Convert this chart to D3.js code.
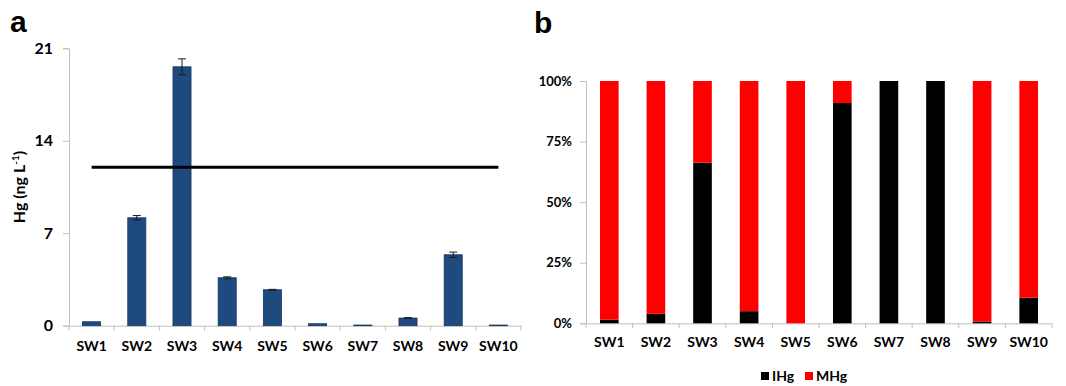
<!DOCTYPE html>
<html>
<head>
<meta charset="utf-8">
<script src="https://cdn.jsdelivr.net/npm/d3@7"></script>
<style>
  body { margin: 0; background: #fff; }
  svg { display: block; }
  svg text { font-family: Lato, "Open Sans", "Liberation Sans", sans-serif; }
  .axis path, .axis line { stroke: #bfbfbf; }
  .axis text { fill: #000; font-weight: bold; }
</style>
</head>
<body>
<div class="chart"></div>
<script>
// sample sites
var sites = ['SW1', 'SW2', 'SW3', 'SW4', 'SW5', 'SW6', 'SW7', 'SW8', 'SW9', 'SW10']
// panel a: total Hg (ng/L) with error
var hgValues = [0.3, 8.17, 19.6, 3.63, 2.72, 0.15, 0.05, 0.58, 5.37, 0.05]
var hgErrors = [0, 0.17, 0.6, 0.07, 0.03, 0, 0, 0.03, 0.2, 0]
var hgTicks = [0, 7, 14, 21]
var threshold = 12
// panel b: share of IHg (%), remainder is MHg
var ihgPct = [1.5, 3.9, 66.3, 5, 0, 90.9, 100, 100, 0.7, 10.6]
var pctTicks = [0, 25, 50, 75, 100]
var seriesNames = ['IHg', 'MHg']
var seriesColors = ['#000000', '#ff0000']

var svg = d3.select(".chart").append("svg")
    .attr("width", 1066)
    .attr("height", 386)

// ---------- panel a ----------
var gA = svg.append("g")

var xA = d3.scaleBand().domain(sites).range([69, 521]).paddingInner(0.6).paddingOuter(0.3)
var yA = d3.scaleLinear().domain([0, 21]).range([325.7, 48.3])

gA.append("g")
    .attr("class", "axis")
    .attr("transform", "translate(69,0)")
    .call(d3.axisLeft(yA).tickValues(hgTicks).tickSize(6).tickPadding(10))
    .selectAll("text").style("font-size", "16px")

var xAxisA = gA.append("g")
    .attr("class", "axis")
    .attr("transform", "translate(0,325.7)")
    .call(d3.axisBottom(xA).tickSize(0).tickPadding(15))
xAxisA.selectAll("text").style("font-size", "14px")
// tick marks sit between categories
var stepA = xA.step()
xAxisA.selectAll("line.sep")
    .data(d3.range(sites.length + 1))
    .enter().append("line")
    .attr("x1", function(i) { return 69 + i * stepA })
    .attr("x2", function(i) { return 69 + i * stepA })
    .attr("y1", 0).attr("y2", 5)
    .attr("stroke", "#bfbfbf")

gA.selectAll("rect.bar")
    .data(hgValues)
    .enter().append("rect")
    .attr("class", "bar")
    .attr("x", function(d, i) { return xA(sites[i]) })
    .attr("width", xA.bandwidth())
    .attr("y", function(d) { return yA(d) })
    .attr("height", function(d) { return yA(0) - yA(d) })
    .attr("fill", "#1f4a80")
    .attr("stroke", "#17375e")
    .attr("stroke-width", 0.8)

// error bars
var errG = gA.selectAll("g.err")
    .data(hgValues.map(function(v, i) { return { v: v, e: hgErrors[i], s: sites[i] } })
        .filter(function(d) { return d.e > 0 }))
    .enter().append("g")
    .attr("class", "err")
    .attr("stroke", "#1a1a1a")
    .attr("stroke-width", 1)
errG.append("line")
    .attr("x1", function(d) { return xA(d.s) + xA.bandwidth() / 2 })
    .attr("x2", function(d) { return xA(d.s) + xA.bandwidth() / 2 })
    .attr("y1", function(d) { return yA(d.v + d.e) })
    .attr("y2", function(d) { return yA(d.v - d.e) })
errG.selectAll("line.cap")
    .data(function(d) { return [d.v + d.e, d.v - d.e].map(function(y) { return { y: y, s: d.s } }) })
    .enter().append("line")
    .attr("class", "cap")
    .attr("x1", function(d) { return xA(d.s) + xA.bandwidth() / 2 - 4 })
    .attr("x2", function(d) { return xA(d.s) + xA.bandwidth() / 2 + 4 })
    .attr("y1", function(d) { return yA(d.y) })
    .attr("y2", function(d) { return yA(d.y) })

// guideline value
gA.append("line")
    .attr("x1", xA(sites[0]) + xA.bandwidth() / 2)
    .attr("x2", xA(sites[sites.length - 1]) + xA.bandwidth() / 2)
    .attr("y1", yA(threshold))
    .attr("y2", yA(threshold))
    .attr("stroke", "#000")
    .attr("stroke-width", 3)

var yLab = gA.append("text")
    .attr("transform", "translate(25,187) rotate(-90)")
    .attr("text-anchor", "middle")
    .style("font-size", "16px")
    .style("font-weight", "bold")
yLab.append("tspan").text("Hg (ng L")
yLab.append("tspan").attr("dy", -6).style("font-size", "10px").text("-1")
yLab.append("tspan").attr("dy", 6).text(")")

gA.append("text")
    .attr("x", 10).attr("y", 32)
    .style("font-size", "30px")
    .style("font-weight", "bold")
    .style("font-family", "'Liberation Sans', Arial, sans-serif")
    .text("a")

// ---------- panel b ----------
var gB = svg.append("g")

var xB = d3.scaleBand().domain(sites).range([586, 1052]).paddingInner(0.6).paddingOuter(0.3)
var yB = d3.scaleLinear().domain([0, 100]).range([323.3, 81])

gB.append("g")
    .attr("class", "axis")
    .attr("transform", "translate(586,0)")
    .call(d3.axisLeft(yB).tickValues(pctTicks).tickSize(6).tickPadding(8)
        .tickFormat(function(d) { return d + "%" }))
    .selectAll("text").style("font-size", "13px")

var xAxisB = gB.append("g")
    .attr("class", "axis")
    .attr("transform", "translate(0,323.3)")
    .call(d3.axisBottom(xB).tickSize(0).tickPadding(14))
xAxisB.selectAll("text").style("font-size", "14px")
var stepB = xB.step()
xAxisB.selectAll("line.sep")
    .data(d3.range(sites.length + 1))
    .enter().append("line")
    .attr("x1", function(i) { return 586 + i * stepB })
    .attr("x2", function(i) { return 586 + i * stepB })
    .attr("y1", 0).attr("y2", 5)
    .attr("stroke", "#bfbfbf")

var stackData = sites.map(function(s, i) { return { site: s, IHg: ihgPct[i], MHg: 100 - ihgPct[i] } })
var stacked = d3.stack().keys(seriesNames)(stackData)

gB.selectAll("g.series")
    .data(stacked)
    .enter().append("g")
    .attr("class", "series")
    .attr("fill", function(d, i) { return seriesColors[i] })
    .selectAll("rect")
    .data(function(d) { return d })
    .enter().append("rect")
    .attr("x", function(d) { return xB(d.data.site) })
    .attr("width", xB.bandwidth())
    .attr("y", function(d) { return yB(d[1]) })
    .attr("height", function(d) { return yB(d[0]) - yB(d[1]) })

// legend
var legend = gB.selectAll("g.legend")
    .data(seriesNames)
    .enter().append("g")
    .attr("class", "legend")
    .attr("transform", function(d, i) { return "translate(" + (761 + i * 44) + ",372)" })
legend.append("rect")
    .attr("width", 8).attr("height", 8)
    .attr("fill", function(d, i) { return seriesColors[i] })
legend.append("text")
    .attr("x", 11).attr("y", 9)
    .style("font-size", "14px")
    .style("font-weight", "bold")
    .text(function(d) { return d })

gB.append("text")
    .attr("x", 534).attr("y", 33)
    .style("font-size", "30px")
    .style("font-weight", "bold")
    .style("font-family", "'Liberation Sans', Arial, sans-serif")
    .text("b")
</script>
</body>
</html>
